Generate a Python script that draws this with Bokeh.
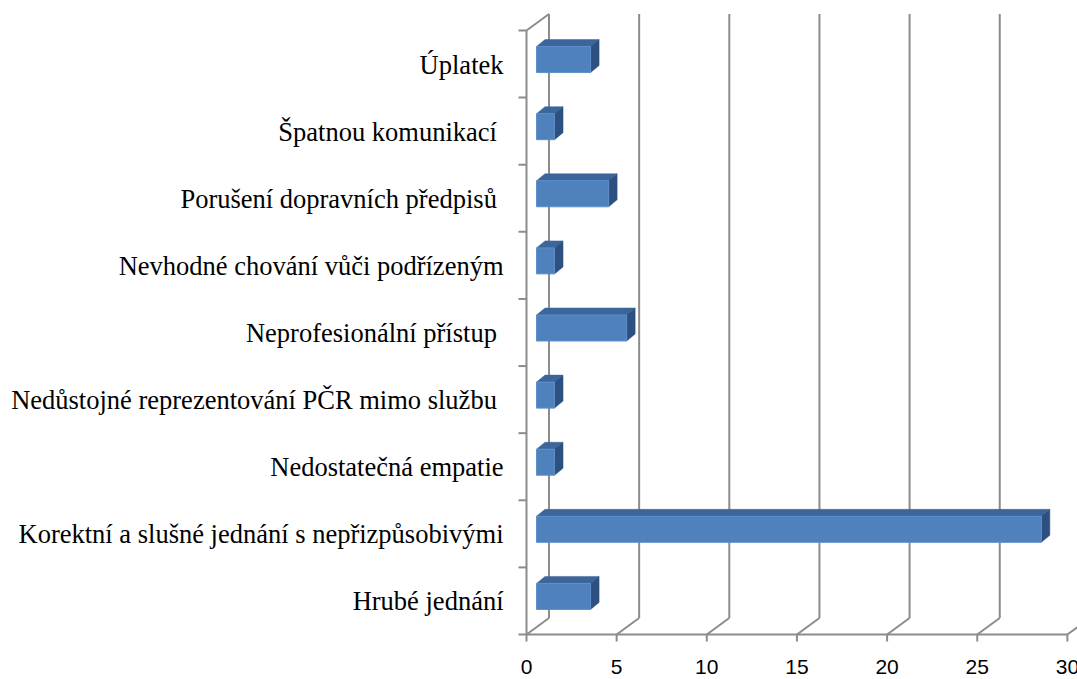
from bokeh.plotting import figure
from bokeh.models import Range1d
from bokeh.core.properties import value
from bokeh.embed import file_html
from bokeh.resources import INLINE

# ---- data (bottom to top) ----
categories = [
    "Hrubé jednání",
    "Korektní a slušné jednání s nepřizpůsobivými",
    "Nedostatečná empatie",
    "Nedůstojné reprezentování PČR mimo službu ",
    "Neprofesionální přístup ",
    "Nevhodné chování vůči podřízeným",
    "Porušení dopravních předpisů ",
    "Špatnou komunikací ",
    "Úplatek",
]
values = [3, 28, 1, 1, 5, 1, 4, 1, 3]
x_ticks = [0, 5, 10, 15, 20, 25, 30]
x_tick_labels = ["0", "5", "10", "15", "20", "25", "30"]

# ---- layout (pixels) ----
W, H = 1077, 679
SX = 18.03          # px per value unit
SY = 67.11          # px per category band
X0 = 526            # figure px of value 0
Y0 = 634            # figure px of floor line

n = len(categories)
XMAX = x_ticks[-1]
DX, DY = 22.5 / SX, 16.5 / SY        # wall depth
FX, FY = 10 / SX, 4.5 / SY           # bar front-face offset
BH = 26 / SY                          # bar thickness
BDX, BDY = 8.5 / SX, 7 / SY           # bar depth

p = figure(width=W, height=H, output_backend="svg", toolbar_location=None,
           x_range=Range1d(-X0 / SX, (W - X0) / SX),
           y_range=Range1d(-(H - Y0) / SY, Y0 / SY),
           x_axis_location=None, y_axis_location=None,
           min_border=0, min_border_left=0, min_border_right=0,
           min_border_top=0, min_border_bottom=0)
p.outline_line_color = None
p.grid.visible = False
p.background_fill_color = "white"

GRID = "#8c8c8c"
# back wall vertical gridlines
p.segment(x0=[v + DX for v in x_ticks], y0=[DY] * len(x_ticks),
          x1=[v + DX for v in x_ticks], y1=[n + DY] * len(x_ticks),
          line_color=GRID, line_width=2)
# floor diagonals
p.segment(x0=x_ticks, y0=[0] * len(x_ticks),
          x1=[v + DX for v in x_ticks], y1=[DY] * len(x_ticks),
          line_color=GRID, line_width=2)
# floor front line
p.segment(x0=[0], y0=[0], x1=[XMAX], y1=[0], line_color=GRID, line_width=2)
# left wall front edge and top diagonal
p.segment(x0=[0, 0], y0=[0, n], x1=[0, DX], y1=[n, n + DY], line_color=GRID, line_width=2)
# category tick marks
bounds = list(range(n + 1))
p.segment(x0=[-8 / SX] * len(bounds), y0=bounds, x1=[0] * len(bounds), y1=bounds,
          line_color=GRID, line_width=2)
# value tick marks
p.segment(x0=x_ticks, y0=[0] * len(x_ticks), x1=x_ticks, y1=[-7 / SY] * len(x_ticks),
          line_color=GRID, line_width=2)

# ---- 3D bars ----
front_l, front_r, front_b, front_t = [], [], [], []
top_xs, top_ys, side_xs, side_ys = [], [], [], []
for i, v in enumerate(values):
    c = i + 0.5 + FY
    x0, x1 = FX, FX + v
    yb, yt = c - BH / 2, c + BH / 2
    front_l.append(x0); front_r.append(x1); front_b.append(yb); front_t.append(yt)
    top_xs.append([x0, x1, x1 + BDX, x0 + BDX])
    top_ys.append([yt, yt, yt + BDY, yt + BDY])
    side_xs.append([x1, x1, x1 + BDX, x1 + BDX])
    side_ys.append([yb, yt, yt + BDY, yb + BDY])

p.patches(xs=top_xs, ys=top_ys, fill_color="#3c659a", line_color="#3c659a", line_width=0.5)
p.patches(xs=side_xs, ys=side_ys, fill_color="#2d5080", line_color="#2d5080", line_width=0.5)
p.quad(left=front_l, right=front_r, bottom=front_b, top=front_t,
       fill_color="#4f81bd", line_color="#5d8fcb", line_width=1)

# ---- category labels ----
p.text(x=[-23 / SX] * n, y=[i + 0.5 - 0.5 / SY for i in range(n)], text=categories,
       text_align="right", text_baseline="alphabetic",
       text_font=value("Liberation Serif"), text_font_size="26.5px", text_color="black")

# ---- value tick labels ----
p.text(x=x_ticks, y=[-32 / SY] * len(x_ticks), text=x_tick_labels,
       text_align="center", text_baseline="middle",
       text_font=value("Liberation Sans"), text_font_size="21px", text_color="black")

open("out.html", "w").write(file_html(p, INLINE))
